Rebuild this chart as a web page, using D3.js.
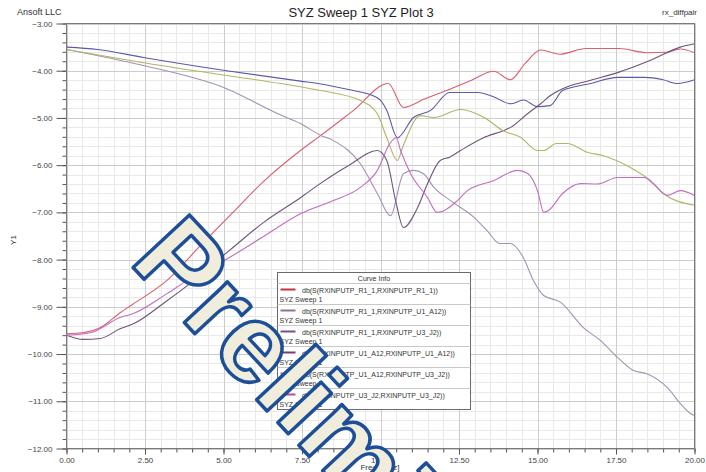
<!DOCTYPE html>
<html>
<head>
<meta charset="utf-8">
<script src="https://cdn.jsdelivr.net/npm/d3@7"></script>
<style>
  body { margin: 0; background: #fff; }
  text { font-family: "Liberation Sans", Arial, sans-serif; }
</style>
</head>
<body>
<svg class="chart"></svg>
<script>
// S-parameter curves (dB)
const redF = [0, 0.5, 1.08, 1.72, 2.1, 3.2, 4.27, 5.3, 6.27, 7.45, 8.1, 9.14, 10.25, 10.73, 11.4, 12.1, 12.9, 13.6, 14.14, 14.6, 15.1, 15.7, 16.55, 17.6, 18.5, 19.1, 19.55, 20];
const redV = [-9.57, -9.55, -9.44, -9.12, -8.95, -8.44, -7.7, -7.0, -6.35, -5.69, -5.37, -4.84, -4.27, -4.78, -4.6, -4.42, -4.2, -4.01, -4.19, -3.85, -3.56, -3.65, -3.53, -3.53, -3.62, -3.61, -3.54, -3.62];

const mauveF = [0, 2.45, 5.1, 6.7, 7.45, 8.1, 8.5, 9.36, 9.9, 10.32, 10.73, 11.05, 11.37, 11.7, 12.23, 12.97, 13.4, 13.8, 14.14, 14.55, 14.87, 15.2, 15.73, 16.46, 17.0, 17.55, 18.06, 18.5, 19.14, 19.55, 19.87, 20];
const mauveV = [-3.55, -3.89, -4.38, -4.9, -5.12, -5.37, -5.48, -5.97, -6.6, -7.07, -6.18, -6.11, -6.18, -6.47, -6.75, -7.1, -7.39, -7.66, -7.66, -7.96, -8.44, -8.76, -8.9, -9.44, -9.71, -10.07, -10.35, -10.42, -10.71, -11.05, -11.26, -11.3];

const blueF = [0, 1, 2.45, 5.1, 7.45, 8.1, 9.14, 9.6, 10.0, 10.2, 10.54, 11.05, 11.6, 12.2, 13.1, 13.6, 14.14, 14.55, 15.0, 15.4, 15.8, 16.7, 17.55, 18.4, 19.0, 19.45, 20];
const blueV = [-3.5, -3.55, -3.72, -4.0, -4.22, -4.28, -4.42, -4.49, -4.63, -4.84, -5.42, -4.99, -4.84, -4.46, -4.46, -4.55, -4.7, -4.62, -4.76, -4.74, -4.42, -4.27, -4.14, -4.14, -4.19, -4.27, -4.19];

const plumF = [0, 0.54, 1.08, 1.72, 2.13, 3.2, 3.85, 5.2, 6.3, 7.45, 8.1, 9.0, 9.9, 10.2, 10.48, 10.73, 11.18, 11.5, 11.9, 12.2, 12.55, 13.28, 13.9, 14.14, 14.68, 15.1, 15.4, 15.8, 16.7, 17.55, 18.6, 19.55, 20];
const plumV = [-9.6, -9.69, -9.67, -9.46, -9.36, -8.87, -8.55, -7.8, -7.2, -6.69, -6.38, -6.0, -5.69, -5.9, -6.75, -7.32, -6.9, -6.39, -5.9, -5.83, -5.69, -5.42, -5.27, -5.2, -4.91, -4.7, -4.53, -4.38, -4.2, -4.04, -3.78, -3.5, -3.43];

const oliveF = [0, 2.45, 5.1, 7.45, 8.1, 9.36, 9.9, 10.2, 10.54, 10.7, 11.27, 11.7, 12.55, 13.3, 13.9, 14.46, 15.0, 15.2, 15.6, 15.95, 16.6, 17.1, 17.96, 18.6, 19.0, 20];
const oliveV = [-3.55, -3.83, -4.1, -4.34, -4.42, -4.63, -4.91, -5.42, -5.9, -5.63, -4.95, -4.99, -4.82, -4.99, -5.27, -5.41, -5.69, -5.69, -5.54, -5.54, -5.73, -5.8, -6.05, -6.33, -6.6, -6.85];

const pinkF = [0, 0.76, 1.72, 2.13, 3.2, 3.85, 5.2, 6.3, 7.45, 8.5, 9.36, 9.9, 10.3, 10.5, 10.64, 10.96, 11.5, 11.8, 12.0, 12.45, 12.77, 13.6, 14.36, 14.7, 15.0, 15.2, 15.35, 15.8, 16.37, 16.9, 17.55, 18.4, 18.7, 19.14, 19.55, 20];
const pinkV = [-9.6, -9.55, -9.22, -9.14, -8.72, -8.44, -7.95, -7.5, -7.03, -6.75, -6.47, -6.11, -5.54, -5.42, -5.69, -6.18, -6.69, -7.0, -6.97, -6.75, -6.54, -6.33, -6.11, -6.18, -6.54, -7.0, -6.96, -6.6, -6.39, -6.4, -6.26, -6.26, -6.4, -6.64, -6.54, -6.64];

const curveNames = [
  "db(S(RXINPUTP_R1_1,RXINPUTP_R1_1))",
  "db(S(RXINPUTP_R1_1,RXINPUTP_U1_A12))",
  "db(S(RXINPUTP_R1_1,RXINPUTP_U3_J2))",
  "db(S(RXINPUTP_U1_A12,RXINPUTP_U1_A12))",
  "db(S(RXINPUTP_U1_A12,RXINPUTP_U3_J2))",
  "db(S(RXINPUTP_U3_J2,RXINPUTP_U3_J2))"
];
const curveColors = ['#d9606e', '#a391b3', '#5a5aa8', '#6f5479', '#b3b466', '#c26cc2'];
const legendColors = ['#c8323f', '#8f7391', '#7b4f8f', '#7b3a6e', '#9b6f95', '#b0508f'];

const xTicks = [0, 2.5, 5, 7.5, 10, 12.5, 15, 17.5, 20];
const yTicks = [-12, -11, -10, -9, -8, -7, -6, -5, -4, -3];

const series = [
  { f: redF, v: redV },
  { f: mauveF, v: mauveV },
  { f: blueF, v: blueV },
  { f: plumF, v: plumV },
  { f: oliveF, v: oliveV },
  { f: pinkF, v: pinkV }
];

const width = 706;
const height = 472;
const plot = { left: 66.5, right: 694.5, top: 23.5, bottom: 448.5 };

const x = d3.scaleLinear()
  .domain([0, 20])
  .range([plot.left, plot.right]);

const y = d3.scaleLinear()
  .domain([-12, -3])
  .range([plot.bottom, plot.top]);

const svg = d3.select('.chart')
  .attr('width', width)
  .attr('height', height);

svg.append('rect')
  .attr('width', width)
  .attr('height', height)
  .attr('fill', '#fff');

// grid: minor then major
const xMinor = d3.range(0, 20.001, 0.5);
const yMinor = d3.range(-12, -2.999, 0.2);

const grid = svg.append('g').attr('class', 'grid');

grid.selectAll('.vminor')
    .data(xMinor)
  .enter().append('line')
    .attr('x1', d => Math.round(x(d)) + 0.5)
    .attr('x2', d => Math.round(x(d)) + 0.5)
    .attr('y1', plot.top)
    .attr('y2', plot.bottom)
    .attr('stroke', '#e9e9e9');

grid.selectAll('.hminor')
    .data(yMinor)
  .enter().append('line')
    .attr('x1', plot.left)
    .attr('x2', plot.right)
    .attr('y1', d => Math.round(y(d)) + 0.5)
    .attr('y2', d => Math.round(y(d)) + 0.5)
    .attr('stroke', '#e9e9e9');

grid.selectAll('.vmajor')
    .data(xTicks)
  .enter().append('line')
    .attr('x1', d => Math.round(x(d)) + 0.5)
    .attr('x2', d => Math.round(x(d)) + 0.5)
    .attr('y1', plot.top)
    .attr('y2', plot.bottom)
    .attr('stroke', '#cccccc');

grid.selectAll('.hmajor')
    .data(yTicks)
  .enter().append('line')
    .attr('x1', plot.left)
    .attr('x2', plot.right)
    .attr('y1', d => Math.round(y(d)) + 0.5)
    .attr('y2', d => Math.round(y(d)) + 0.5)
    .attr('stroke', '#cccccc');

// axes
const yMinorAxis = d3.axisLeft(y).tickValues(yMinor).tickSize(4).tickFormat('');
const yAxis = d3.axisLeft(y).tickValues(yTicks).tickSize(10).tickPadding(4).tickFormat(d3.format('.2f'));
const xMinorAxis = d3.axisBottom(x).tickValues(xMinor).tickSize(4).tickFormat('');
const xAxis = d3.axisBottom(x).tickValues(xTicks).tickSize(6).tickPadding(3).tickFormat(d3.format('.2f'));

function styleAxis(g) {
  g.select('.domain').remove();
  g.selectAll('line').attr('stroke', '#555');
  g.selectAll('text')
    .attr('fill', '#444')
    .attr('font-size', 8)
    .attr('font-family', '"Liberation Sans", Arial, sans-serif');
}

svg.append('g').attr('transform', 'translate(' + plot.left + ',0)').call(yMinorAxis).call(styleAxis);
svg.append('g').attr('transform', 'translate(' + plot.left + ',0)').call(yAxis).call(styleAxis);
svg.append('g').attr('transform', 'translate(0,' + plot.bottom + ')').call(xMinorAxis).call(styleAxis);
svg.append('g').attr('transform', 'translate(0,' + plot.bottom + ')').call(xAxis).call(styleAxis);

// curves
const line = d3.line()
  .x(d => x(d[0]))
  .y(d => y(d[1]))
  .curve(d3.curveMonotoneX);

svg.append('g').selectAll('.curve')
    .data(series)
  .enter().append('path')
    .attr('class', 'curve')
    .attr('fill', 'none')
    .attr('stroke', (d, i) => curveColors[i])
    .attr('stroke-width', 1.1)
    .attr('d', d => line(d.f.map((f, j) => [f, d.v[j]])));

// plot border
svg.append('rect')
  .attr('x', plot.left)
  .attr('y', plot.top)
  .attr('width', plot.right - plot.left)
  .attr('height', plot.bottom - plot.top)
  .attr('fill', 'none')
  .attr('stroke', '#7a7a7a');

// texts
svg.append('text')
  .attr('x', 361).attr('y', 17)
  .attr('text-anchor', 'middle')
  .attr('font-size', 13)
  .attr('fill', '#222')
  .text('SYZ Sweep 1 SYZ Plot 3');

svg.append('text')
  .attr('x', 17).attr('y', 15)
  .attr('font-size', 9)
  .attr('fill', '#333')
  .text('Ansoft LLC');

svg.append('text')
  .attr('x', 697).attr('y', 15)
  .attr('text-anchor', 'end')
  .attr('font-size', 8)
  .attr('fill', '#333')
  .text('rx_diffpair');

svg.append('text')
  .attr('transform', 'translate(16,240) rotate(-90)')
  .attr('text-anchor', 'middle')
  .attr('font-size', 8)
  .attr('fill', '#333')
  .text('Y1');

svg.append('text')
  .attr('x', 380).attr('y', 470)
  .attr('text-anchor', 'middle')
  .attr('font-size', 8)
  .attr('fill', '#333')
  .text('Freq [GHz]');

// legend
const lg = { x: 277.5, y: 272.5, w: 193, head: 11, row: 21 };
const legend = svg.append('g');

legend.append('rect')
  .attr('x', lg.x).attr('y', lg.y)
  .attr('width', lg.w)
  .attr('height', lg.head + lg.row * curveNames.length)
  .attr('fill', '#fff')
  .attr('stroke', '#6a6a6a');

legend.append('text')
  .attr('x', lg.x + lg.w / 2).attr('y', lg.y + 8.5)
  .attr('text-anchor', 'middle')
  .attr('font-size', 7)
  .attr('fill', '#333')
  .text('Curve Info');

const entry = legend.selectAll('.entry')
    .data(curveNames)
  .enter().append('g')
    .attr('transform', (d, i) => 'translate(' + lg.x + ',' + (lg.y + lg.head + i * lg.row) + ')');

entry.append('line')
  .attr('x1', 0).attr('x2', lg.w)
  .attr('y1', 0).attr('y2', 0)
  .attr('stroke', '#c8c8c8');

entry.append('line')
  .attr('x1', 3).attr('x2', 18)
  .attr('y1', 6).attr('y2', 6)
  .attr('stroke', (d, i) => legendColors[i])
  .attr('stroke-width', 2);

entry.append('text')
  .attr('x', 24.5).attr('y', 9)
  .attr('font-size', 7)
  .attr('fill', '#333')
  .text(d => d);

entry.append('text')
  .attr('x', 2).attr('y', 18)
  .attr('font-size', 7)
  .attr('fill', '#333')
  .text('SYZ Sweep 1');

// watermark
svg.append('text')
  .attr('transform', 'translate(128,262) rotate(47)')
  .attr('font-family', '"DejaVu Sans", sans-serif')
  .attr('font-weight', 'bold')
  .attr('font-size', 112)
  .attr('fill', '#f1eddd')
  .attr('stroke', '#1d4f99')
  .attr('stroke-width', 3.5)
  .attr('stroke-linejoin', 'round')
  .text('Preliminary');
</script>
</body>
</html>
